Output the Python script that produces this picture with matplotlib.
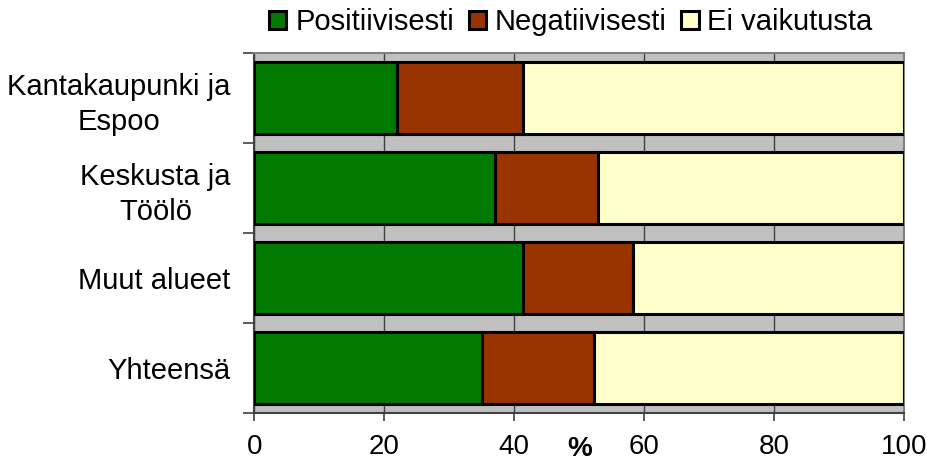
import matplotlib.pyplot as plt
import numpy as np

plt.rcParams['font.family'] = ['Liberation Sans', 'DejaVu Sans']

# vastausten jakauma alueittain (%)
alueet = ["Kantakaupunki ja\nEspoo", "Keskusta ja\nTöölö", "Muut alueet", "Yhteensä"]
positiivisesti = [22.0, 37.1, 41.4, 35.0]
negatiivisesti = [19.4, 15.8, 16.8, 17.2]
ei_vaikutusta = [58.6, 47.1, 41.8, 47.8]
sarjat = ["Positiivisesti", "Negatiivisesti", "Ei vaikutusta"]
varit = ["#007A00", "#993300", "#FFFFCC"]

fs = 21

fig = plt.figure(figsize=(9.28, 4.63), dpi=100)
ax = fig.add_axes([254.3 / 928, 1 - 412.7 / 463, 650 / 928, 360 / 463])
ax.set_facecolor("#C0C0C0")

y = np.arange(len(alueet))
left = np.zeros(len(alueet))
for arvot, nimi, vari in zip([positiivisesti, negatiivisesti, ei_vaikutusta], sarjat, varit):
    ax.barh(y, arvot, left=left, height=0.8, color=vari, edgecolor="black",
            linewidth=2.2, label=nimi, zorder=3)
    left += np.array(arvot)

ax.set_xlim(0, 100)
ax.set_ylim(len(alueet) - 0.5, -0.5)
ax.set_xticks([0, 20, 40, 60, 80, 100])
ax.tick_params(axis="x", labelsize=20, length=5.5, width=1.2, color="#404040", pad=10)
ax.set_yticks(np.arange(len(alueet) + 1) - 0.5, minor=True)
ax.set_yticks(y)
ax.set_yticklabels(alueet, fontsize=fs, multialignment="center", linespacing=1.35)
ax.tick_params(axis="y", which="major", length=0, pad=17)
ax.tick_params(axis="y", which="minor", length=8, width=1.2, color="#404040")
ax.xaxis.grid(True, color="#404040", linewidth=1.0, zorder=0)
ax.set_axisbelow(True)

for s in ["left", "bottom"]:
    ax.spines[s].set_color("#404040")
    ax.spines[s].set_linewidth(1.5)
for s in ["top", "right"]:
    ax.spines[s].set_color("#808080")
    ax.spines[s].set_linewidth(1.5)

ax.text(50, -0.1, "%", transform=ax.get_xaxis_transform(), ha="center", va="center",
        fontsize=20, fontweight="bold")

ax.legend(loc="center", bbox_to_anchor=(0.487, 1.085), ncol=3, frameon=False,
          fontsize=fs, handlelength=0.6, handleheight=0.6, handletextpad=0.3,
          columnspacing=0.5, borderpad=0)

fig.savefig("out.png", dpi=100)
